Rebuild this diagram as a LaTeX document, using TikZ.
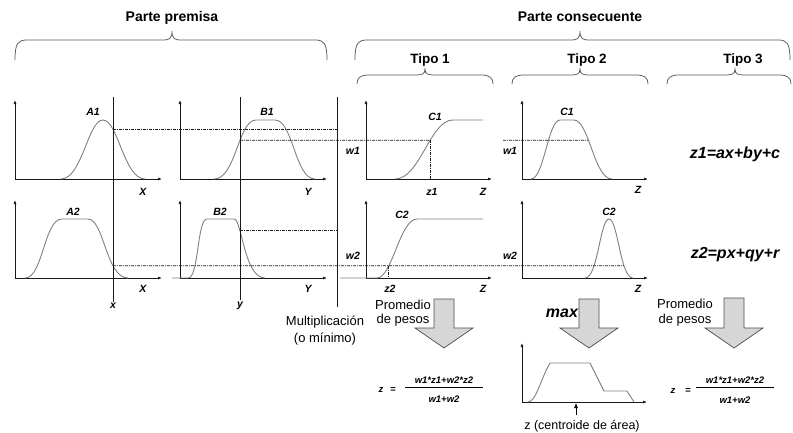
\documentclass[tikz,border=0pt]{standalone}
\usepackage{fontspec}
\setmainfont{Liberation Sans}
\usetikzlibrary{arrows.meta,intersections}
\colorlet{cCurve}{black!50}
\colorlet{cBrace}{black!65}
\colorlet{cFill}{black!16}
\tikzset{
  >={Latex[length=4pt,width=3pt]},
  axis/.style={->,line width=0.7pt,black!90},
  mf/.style={draw=cCurve,line width=0.9pt},
  cut/.style={draw=black!90,line width=0.75pt,dash pattern=on 3pt off 1pt on 1pt off 1pt},
  guide/.style={draw=black!90,line width=0.7pt},
  brc/.style={draw=cBrace,line width=0.75pt},
  head/.style={anchor=base,font=\fontsize{14}{16}\selectfont\bfseries},
  tipo/.style={anchor=base,font=\fontsize{13.5}{16}\selectfont\bfseries},
  lbl/.style={inner sep=1.5pt,font=\fontsize{10.5}{12}\selectfont\bfseries\itshape},
  eqn/.style={anchor=base,inner sep=0pt,font=\fontsize{16}{18}\selectfont\bfseries\itshape},
  note/.style={anchor=base,inner sep=0pt,font=\fontsize{13}{15}\selectfont},
  frac/.style={anchor=base,inner sep=0pt,font=\fontsize{9.5}{11}\selectfont\bfseries\itshape},
  bigarrow/.style={fill=cFill,draw=black!70,line width=0.7pt},
}
% left x, right x, peak x, end y, bar y, peak y
\newcommand{\hbrace}[6]{%
  \draw[brc] (#1,#4) .. controls (#1,{#5+3}) and ({#1+3},#5) .. ({#1+12},#5)
    -- ({#3-9},#5) .. controls ({#3-3},#5) and (#3,{#5-1}) .. (#3,#6)
    .. controls (#3,{#5-1}) and ({#3+3},#5) .. ({#3+9},#5)
    -- ({#2-12},#5) .. controls ({#2-3},#5) and (#2,{#5+3}) .. (#2,#4);}
% centre x, top y
\newcommand{\blockarrow}[2]{%
  \draw[bigarrow] ({#1-10},#2) -- ({#1+10},#2) -- ({#1+10},328) -- ({#1+29},328)
    -- (#1,348) -- ({#1-29},328) -- ({#1-10},328) -- cycle;}

\begin{document}
\begin{tikzpicture}[x=1pt,y=-1pt]
  \useasboundingbox (0,0) rectangle (793,432);
  % headings
  \node[head] (prem) at (172,21) {Parte premisa};
  \node[head] (cons) at (580,21) {Parte consecuente};
  \node[tipo] (tipoA) at (430,63) {Tipo 1};
  \node[tipo] (tipoB) at (587,63) {Tipo 2};
  \node[tipo] (tipoC) at (743,63) {Tipo 3};
  \hbrace{15}{327}{172}{60}{40}{31}
  \hbrace{355}{790}{580}{60}{40}{31}
  \hbrace{357}{493}{425}{84}{75}{69}
  \hbrace{512}{648}{580}{84}{75}{69}
  \hbrace{667}{791}{735}{84}{75}{69}

  % axes
  \foreach \n/\x/\y/\w/\h in {oA1/15/179/147/79, oB1/180/179/147/79, oC1/366/179/126/79,
      oD1/522/179/126/79, oA2/15/278/147/78, oB2/180/278/147/78, oC2/366/278/126/78,
      oD2/522/278/126/78, oE/522/402/125/59}{
    \coordinate (\n) at (\x,\y);
    \draw[axis] (\n) -- ++(0,-\h);
    \draw[axis] (\n) -- ++(\w,0);
  }

  % membership functions
  \draw[mf,name path=cA1] (61,179) .. controls (82,179) and (88,120) .. (103,120)
    .. controls (118,120) and (124,179) .. (145,179);
  \draw[mf,name path=cB1] (214,179) .. controls (236,179) and (238,120) .. (256,120)
    -- (275,120) .. controls (293,120) and (295,179) .. (315,179);
  \draw[mf,name path=cA2] (25,278) .. controls (43,278) and (44,219) .. (62,219)
    -- (88,219) .. controls (104,219) and (106,278) .. (128,278);
  \draw[mf,name path=cB2] (172,278) -- (188,278) .. controls (199,278) and (197,219) .. (207,219)
    -- (234,219) .. controls (242,219) and (244,278) .. (265,278);
  \draw[mf,name path=cC1] (395,179) .. controls (420,179) and (430,120) .. (453,120) -- (483,120);
  \draw[mf,name path=cC2] (340,278) -- (377,278) .. controls (392,278) and (400,219) .. (417,219)
    -- (483,219);
  \draw[mf,name path=cD1] (531,179) .. controls (544,179) and (548,120) .. (560,120)
    -- (574,120) .. controls (589,120) and (594,179) .. (612,179);
  \draw[mf,name path=cD2] (585,278) .. controls (598,278) and (600,219) .. (609,219)
    .. controls (618,219) and (620,278) .. (633,278);
  \draw[mf] (528,402) .. controls (536,402) and (541,378) .. (550,363) -- (590,363)
    -- (604,391) -- (627,391) -- (634,402);

  % inputs x, y and the product line
  \node[lbl] (xv) at (113,306) {x};
  \node[lbl] (yv) at (240,306) {y};
  \coordinate (xtop) at (113,97);
  \coordinate (ytop) at (240,97);
  \coordinate (mtop) at (337,97);
  \coordinate (mbot) at (337,307);
  \draw[guide,name path=lx] (xtop) -- (xv.north);
  \draw[guide,name path=ly] (ytop) -- (yv.north);
  \draw[guide] (mtop) -- (mbot);

  % firing strengths
  \path[name intersections={of=cA1 and lx,by=iA1}];
  \path[name intersections={of=cB1 and ly,by=iB1}];
  \path[name intersections={of=cA2 and lx,by=iA2}];
  \path[name intersections={of=cB2 and ly,by=iB2}];
  \coordinate (rim) at (660,0);
  \coordinate (gapw) at (503,0);
  \path[name path=hw1] (iB1) -- (iB1 -| rim);
  \path[name path=hw2] (iA2) -- (iA2 -| rim);
  \path[name intersections={of=hw1 and cC1,by=iC1}];
  \path[name intersections={of=hw1 and cD1,sort by=hw1,by={iD1a,iD1b}}];
  \path[name intersections={of=hw2 and cC2,by=iC2}];
  \path[name intersections={of=hw2 and cD2,sort by=hw2,by={iD2a,iD2b}}];
  \draw[cut] (iA1) -- (iA1 -| mtop);
  \draw[cut] (iB2) -- (iB2 -| mtop);
  \draw[cut] (iB1) -- (iC1);
  \draw[cut] (iC1) -- (iC1 |- oC1);
  \draw[cut] (iB1 -| gapw) -- (iD1b);
  \draw[cut] (iA2) -- (iD2b);
  \draw[cut] (iC2) -- (iC2 |- oC2);

  % plot labels
  \node[lbl] (lA1) at (93,112) {A1};
  \node[lbl] (lB1) at (267,112) {B1};
  \node[lbl] (lA2) at (73,212) {A2};
  \node[lbl] (lB2) at (220,212) {B2};
  \node[lbl] (lXa) at (143,192) {X};
  \node[lbl] (lYa) at (308,192) {Y};
  \node[lbl] (lXb) at (143,289) {X};
  \node[lbl] (lYb) at (308,289) {Y};
  \node[lbl] (lC1a) at (435,117) {C1};
  \node[lbl] (lC2a) at (402,215) {C2};
  \node[lbl] (lC1b) at (567,112) {C1};
  \node[lbl] (lC2b) at (609,212) {C2};
  \node[lbl] (lw1a) at (353,151) {w1};
  \node[lbl] (lw2a) at (353,256) {w2};
  \node[lbl] (lw1b) at (510,151) {w1};
  \node[lbl] (lw2b) at (510,256) {w2};
  \node[lbl] (lz1) at (432,192) {z1};
  \node[lbl] (lz2) at (390,289) {z2};
  \node[lbl] (lZa) at (483,192) {Z};
  \node[lbl] (lZb) at (483,289) {Z};
  \node[lbl] (lZc) at (638,190) {Z};
  \node[lbl] (lZd) at (638,289) {Z};

  % type 3 consequents
  \node[eqn] (eq1) at (735,158) {z1=ax+by+c};
  \node[eqn] (eq2) at (735,258) {z2=px+qy+r};

  % aggregation
  \blockarrow{444}{299}
  \blockarrow{589}{299}
  \blockarrow{734}{298}
  \node[note] (prA) at (403,309) {Promedio};
  \node[note] (peA) at (403,323) {de pesos};
  \node[note] (prC) at (685,308) {Promedio};
  \node[note] (peC) at (685,323) {de pesos};
  \node[eqn] (mx) at (562,317) {max};
  \node[note] (mul) at (325,325) {Multiplicación};
  \node[note] (mulb) at (325,342) {(o mínimo)};

  % weighted averages
  \node[frac] (zA) at (381,392) {z};
  \node[frac] (eqA) at (393,392) {=};
  \node[frac,minimum width=78pt] (numA) at (444,383) {w1*z1+w2*z2};
  \node[frac] (denA) at (444,402) {w1+w2};
  \draw[line width=0.6pt] ([yshift=-4pt]numA.base west) -- ([yshift=-4pt]numA.base east);
  \node[frac] (zC) at (673,393) {z};
  \node[frac] (eqC) at (688,393) {=};
  \node[frac,minimum width=78pt] (numC) at (735,383) {w1*z1+w2*z2};
  \node[frac] (denC) at (735,403) {w1+w2};
  \draw[line width=0.6pt] ([yshift=-4pt]numC.base west) -- ([yshift=-4pt]numC.base east);

  % centroid
  \coordinate (zc) at (576,403);
  \coordinate (ztail) at (576,415);
  \node[note,font=\fontsize{12.5}{14}\selectfont] (zcen) at (582,429) {z (centroide de área)};
  \draw[-{Latex[length=5pt,width=4pt]},line width=0.7pt] (ztail) -- (zc);
\end{tikzpicture}
\end{document}
